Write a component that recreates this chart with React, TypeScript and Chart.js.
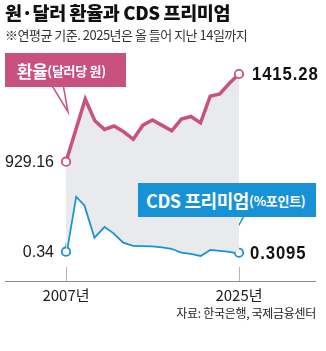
import React, { useEffect, useRef } from "react";
import { Chart, registerables } from "chart.js";

Chart.register(...registerables);

const years = ["2007","2008","2009","2010","2011","2012","2013","2014","2015","2016","2017","2018","2019","2020","2021","2022","2023","2024","2025"];
const exchangeRate = [929.16, 1102.59, 1276.35, 1156.26, 1108.11, 1126.88, 1095.04, 1053.22, 1131.49, 1160.5, 1130.48, 1100.3, 1165.65, 1180.05, 1144.42, 1291.95, 1305.41, 1363.98, 1415.28];
const cdsPremium = [0.34, 2.01, 1.71, 0.8, 1.1, 0.9, 0.63, 0.54, 0.53, 0.52, 0.49, 0.45, 0.34, 0.3, 0.24, 0.42, 0.39, 0.36, 0.3095];
const rateEndLabels = ["929.16", "1415.28"];
const cdsEndLabels = ["0.34", "0.3095"];
const shownTicks = ["2007", "2025"];

const PINK = "#c8527d";
const BLUE = "#1892d6";

const decorPlugin = {
  id: "decor",
  beforeDatasetsDraw(chart: any) {
    const { ctx } = chart;
    const x = chart.scales.x;
    const bottom = chart.chartArea.bottom;
    ctx.save();
    ctx.strokeStyle = "#b5b5b5";
    ctx.lineWidth = 1;
    [0, years.length - 1].forEach((i) => {
      const px = Math.round(x.getPixelForValue(i)) + 0.5;
      ctx.beginPath();
      ctx.moveTo(px, 267);
      ctx.lineTo(px, bottom);
      ctx.stroke();
    });
    ctx.strokeStyle = "#8c8c8c";
    ctx.lineWidth = 1.2;
    ctx.beginPath();
    ctx.moveTo(5, bottom + 0.5);
    ctx.lineTo(316, bottom + 0.5);
    ctx.stroke();
    const tail = (pts: number[][], color: string) => {
      ctx.beginPath();
      ctx.moveTo(pts[0][0], pts[0][1]);
      ctx.lineTo(pts[1][0], pts[1][1]);
      ctx.lineTo(pts[2][0], pts[2][1]);
      ctx.closePath();
      ctx.fillStyle = "#ffffff";
      ctx.fill();
      ctx.strokeStyle = color;
      ctx.lineWidth = 1.5;
      ctx.stroke();
    };
    tail([[51, 84], [63, 84], [68, 112]], PINK);
    tail([[236, 214], [245, 214], [229, 243]], BLUE);
    ctx.restore();
  },
  afterDatasetsDraw(chart: any) {
    const { ctx } = chart;
    ctx.save();
    ctx.textBaseline = "middle";
    const m0 = chart.getDatasetMeta(0).data;
    const m1 = chart.getDatasetMeta(1).data;
    const n = years.length - 1;
    ctx.fillStyle = "#1a1a1a";
    ctx.font = "16px 'Liberation Sans', Arial, sans-serif";
    ctx.textAlign = "right";
    ctx.fillText(rateEndLabels[0], m0[0].x - 12, m0[0].y + 1);
    ctx.fillText(cdsEndLabels[0], m1[0].x - 12, m1[0].y + 1);
    ctx.font = "bold 19px 'Liberation Sans', Arial, sans-serif";
    ctx.textAlign = "left";
    ctx.fillStyle = "#111";
    const drawScaled = (t: string, px: number, py: number) => {
      ctx.save();
      ctx.translate(px, py);
      ctx.scale(0.88, 1);
      try { (ctx as any).letterSpacing = "1px"; } catch (e) {}
      ctx.fillText(t, 0, 0);
      ctx.restore();
    };
    drawScaled(rateEndLabels[1], m0[n].x + 13, m0[n].y + 1);
    drawScaled(cdsEndLabels[1], m1[n].x + 11, m1[n].y + 1);
    ctx.restore();
  },
};

export default function App() {
  const ref = useRef<HTMLCanvasElement | null>(null);
  useEffect(() => {
    document.body.style.margin = "0";
    if (!ref.current) return;
    const endRadius = (c: any) => (c.dataIndex === 0 || c.dataIndex === years.length - 1 ? 4.2 : 0);
    const chart = new Chart(ref.current, {
      type: "line",
      data: {
        labels: years,
        datasets: [
          {
            data: exchangeRate,
            yAxisID: "y",
            borderColor: PINK,
            borderWidth: 3.5,
            pointRadius: endRadius,
            pointBackgroundColor: "#ffffff",
            pointBorderColor: PINK,
            pointBorderWidth: 1.8,
            tension: 0,
            fill: { target: 1 },
            backgroundColor: "#e9eaeb",
            clip: false,
          },
          {
            data: cdsPremium,
            yAxisID: "y2",
            borderColor: BLUE,
            borderWidth: 3.5,
            pointRadius: endRadius,
            pointBackgroundColor: "#ffffff",
            pointBorderColor: BLUE,
            pointBorderWidth: 1.8,
            tension: 0,
            fill: false,
            clip: false,
          },
        ],
      } as any,
      options: {
        responsive: false,
        animation: false,
        layout: { padding: { left: 66, right: 87, top: 60, bottom: 0 } },
        plugins: { legend: { display: false }, tooltip: { enabled: false } },
        scales: {
          x: {
            offset: false,
            grid: { display: false, drawTicks: false },
            border: { display: false },
            afterFit: (s: any) => { s.height = 70; },
            ticks: {
              autoSkip: false,
              maxRotation: 0,
              padding: 5,
              color: "#222",
              font: { family: "'Noto Sans CJK KR', sans-serif", size: 15 },
              callback: (v: any, i: number) => (shownTicks.includes(years[i]) ? years[i] + "년" : ""),
            },
          },
          y: { display: false, min: 267.9, max: 1492.9 },
          y2: { display: false, min: -0.522, max: 5.978 },
        },
      } as any,
      plugins: [decorPlugin],
    });
    return () => chart.destroy();
  }, []);

  const kr = "'Noto Sans CJK KR', sans-serif";
  return (
    <div style={{ position: "relative", width: 326, height: 351, background: "#fff", overflow: "hidden" }}>
      <canvas ref={ref} width={326} height={351} style={{ display: "block", position: "absolute", left: 0, top: 0 }} />
      <div style={{ position: "absolute", left: 5, top: 0, lineHeight: "24px", fontFamily: kr, fontWeight: 900, fontSize: 18.5, letterSpacing: -0.4, color: "#111", whiteSpace: "nowrap" }}>
        원·달러 환율과 CDS 프리미엄
      </div>
      <div style={{ position: "absolute", left: 5, top: 27, lineHeight: "16px", fontFamily: kr, fontSize: 13, letterSpacing: -0.5, color: "#333", whiteSpace: "nowrap" }}>
        ※연평균 기준. 2025년은 올 들어 지난 14일까지
      </div>
      <div style={{ position: "absolute", left: 5, top: 53, width: 121, height: 34, background: PINK, color: "#fff", fontFamily: kr, fontWeight: 700, whiteSpace: "nowrap", display: "flex", alignItems: "center" }}>
        <span style={{ marginLeft: 12, fontSize: 17, letterSpacing: -0.5 }}>환율</span>
        <span style={{ fontSize: 13, letterSpacing: -0.3 }}>(달러당 원)</span>
      </div>
      <div style={{ position: "absolute", left: 138, top: 183, width: 178, height: 34, background: BLUE, color: "#fff", fontFamily: kr, fontWeight: 700, whiteSpace: "nowrap", display: "flex", alignItems: "center" }}>
        <span style={{ marginLeft: 8, fontSize: 18, letterSpacing: -0.4 }}>CDS 프리미엄</span>
        <span style={{ fontSize: 13, letterSpacing: -0.3 }}>(%포인트)</span>
      </div>
      <div style={{ position: "absolute", right: 10, top: 305, lineHeight: "16px", fontFamily: kr, fontSize: 12, letterSpacing: -0.3, color: "#222", whiteSpace: "nowrap" }}>
        자료: 한국은행, 국제금융센터
      </div>
    </div>
  );
}
